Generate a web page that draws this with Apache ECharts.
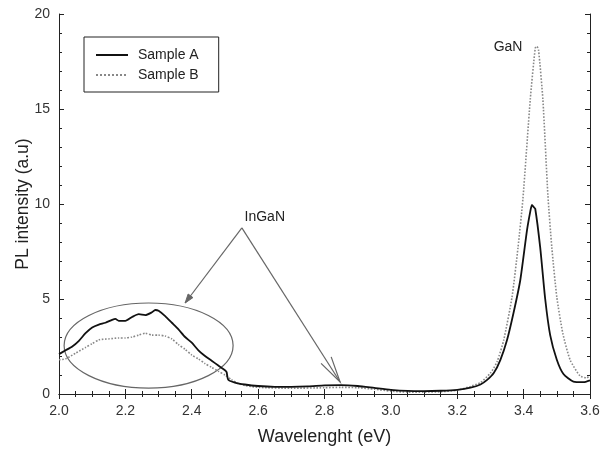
<!DOCTYPE html>
<html>
<head>
<meta charset="utf-8">
<script src="https://cdn.jsdelivr.net/npm/echarts@6/dist/echarts.min.js"></script>
<style>
  html, body { margin: 0; padding: 0; background: #fff; }
  #chart { width: 608px; height: 457px; }
</style>
</head>
<body>
<div id="chart"></div>
<script>
// photon energy (eV) and PL intensity
const energyA = [2.00, 2.02, 2.04, 2.06, 2.08, 2.10, 2.12, 2.14, 2.16, 2.17, 2.18, 2.20, 2.22, 2.24, 2.26, 2.28, 2.29, 2.30,
  2.32, 2.34, 2.36, 2.38, 2.40, 2.42, 2.44, 2.46, 2.48, 2.50, 2.505, 2.51, 2.53, 2.56, 2.60, 2.65, 2.70, 2.75, 2.80,
  2.85, 2.90, 2.95, 3.00, 3.05, 3.10, 3.15, 3.20, 3.24, 3.27, 3.29, 3.31, 3.33, 3.35, 3.37, 3.39, 3.41, 3.42, 3.425,
  3.43, 3.435, 3.45, 3.465, 3.48, 3.50, 3.52, 3.55, 3.58, 3.60];
const sampleA = [2.1, 2.3, 2.5, 2.8, 3.2, 3.5, 3.65, 3.75, 3.9, 3.95, 3.85, 3.85, 4.05, 4.2, 4.15, 4.3, 4.42, 4.38,
  4.1, 3.75, 3.4, 3.0, 2.7, 2.3, 2.0, 1.75, 1.5, 1.25, 1.15, 0.75, 0.6, 0.5, 0.42, 0.38, 0.38, 0.40, 0.45,
  0.47, 0.42, 0.32, 0.22, 0.16, 0.15, 0.17, 0.22, 0.33, 0.5, 0.74, 1.1, 1.8, 2.84, 4.3, 6.0, 8.6, 9.6, 9.95,
  9.85, 9.75, 7.7, 5.0, 3.1, 1.8, 1.05, 0.65, 0.62, 0.72];

const energyB = [2.00, 2.02, 2.05, 2.08, 2.10, 2.12, 2.15, 2.18, 2.20, 2.22, 2.24, 2.26, 2.28, 2.30, 2.32, 2.34, 2.36,
  2.38, 2.40, 2.42, 2.44, 2.46, 2.48, 2.50, 2.52, 2.54, 2.56, 2.60, 2.70, 2.80, 2.85, 2.90, 2.95, 3.00, 3.05, 3.10,
  3.15, 3.20, 3.24, 3.27, 3.30, 3.32, 3.34, 3.365, 3.383, 3.398, 3.42, 3.435, 3.44, 3.445, 3.458, 3.473, 3.485,
  3.50, 3.518, 3.54, 3.57, 3.59, 3.60];
const sampleB = [1.8, 1.85, 2.15, 2.45, 2.65, 2.85, 2.9, 2.95, 2.95, 3.0, 3.1, 3.2, 3.1, 3.1, 3.05, 2.9, 2.6,
  2.35, 2.05, 1.85, 1.6, 1.4, 1.2, 1.0, 0.75, 0.55, 0.45, 0.35, 0.3, 0.33, 0.35, 0.33, 0.25, 0.15, 0.1, 0.1,
  0.12, 0.2, 0.4, 0.6, 1.1, 1.7, 2.84, 5.1, 7.7, 10.3, 15.5, 18.2, 18.3, 18.1, 15.5, 10.5, 7.7,
  5.1, 3.2, 1.8, 0.95, 0.85, 1.0];

const seriesNames = ["Sample A", "Sample B"];
const yTitle = "PL intensity (a.u)";

// annotations, in data units
const ingan = { label: "InGaN", text: [2.62, 9.3], from: [2.551, 8.74], tipLeft: [2.38, 4.79], tipRight: [2.847, 0.63] };
const gan = { label: "GaN", text: [3.353, 18.26] };
const circle = { center: [2.27, 2.55], rx: 0.2546, ry: 2.24 };

const toPairs = (xs, ys) => xs.map((x, i) => [x, ys[i]]);

const chart = echarts.init(document.getElementById("chart"));
const font = "Liberation Sans, Arial, sans-serif";

const axisLine = { show: true, lineStyle: { color: "#222", width: 1 } };
const axisTick = { show: true, inside: true, length: 5, lineStyle: { color: "#222" } };
const minorX = { show: true, splitNumber: 4, length: 3, lineStyle: { color: "#222" } };
const minorY = { show: true, splitNumber: 5, length: 3, lineStyle: { color: "#222" } };

chart.setOption({
  animation: false,
  grid: { left: 59, right: 18, top: 14, bottom: 63, outerBoundsMode: "none", containLabel: false },
  legend: {
    left: 84, top: 37,
    orient: "vertical",
    data: seriesNames,
    itemWidth: 32, itemHeight: 10, itemGap: 6,
    padding: [11, 20, 10, 11],
    borderColor: "#222", borderWidth: 1,
    itemStyle: { opacity: 0 },
    textStyle: { fontFamily: font, fontSize: 14, color: "#222", padding: [0, 0, 0, 5] },
  },
  xAxis: [
    {
      type: "value", min: 2.0, max: 3.6, interval: 0.2,
      name: "Wavelenght (eV)", nameLocation: "middle", nameGap: 34,
      nameTextStyle: { fontFamily: font, fontSize: 18, color: "#222" },
      axisLabel: { fontFamily: font, fontSize: 14, color: "#333", margin: 10, formatter: (v) => v.toFixed(1) },
      axisLine, axisTick, minorTick: minorX, splitLine: { show: false },
    },
    {
      type: "value", min: 2.0, max: 3.6, interval: 0.2, position: "top",
      axisLabel: { show: false },
      axisLine, axisTick, minorTick: minorX, splitLine: { show: false },
    },
  ],
  yAxis: [
    {
      type: "value", min: 0, max: 20, interval: 5,
      axisLabel: { fontFamily: font, fontSize: 14, color: "#333", margin: 9 },
      axisLine, axisTick, minorTick: minorY, splitLine: { show: false },
    },
    {
      type: "value", min: 0, max: 20, interval: 5, position: "right",
      axisLabel: { show: false },
      axisLine, axisTick, minorTick: minorY, splitLine: { show: false },
    },
  ],
  series: [
    {
      name: seriesNames[0], type: "line", data: toPairs(energyA, sampleA),
      showSymbol: false, symbol: "none", smooth: 0.2,
      lineStyle: { color: "#111", width: 1.8 }, itemStyle: { color: "#111" },
      z: 3,
    },
    {
      name: seriesNames[1], type: "line", data: toPairs(energyB, sampleB),
      showSymbol: false, symbol: "none", smooth: 0.2,
      lineStyle: { color: "#888", width: 1.6, type: "dotted" }, itemStyle: { color: "#888" },
      z: 2,
    },
  ],
});

// draw the annotations once the scales exist
const px = (p) => chart.convertToPixel({ gridIndex: 0 }, p);

function arrowHead(from, tip, len, half) {
  const dx = tip[0] - from[0], dy = tip[1] - from[1];
  const d = Math.hypot(dx, dy);
  const ux = dx / d, uy = dy / d;
  const bx = tip[0] - ux * len, by = tip[1] - uy * len;
  return [
    [bx - uy * half, by + ux * half],
    tip,
    [bx + uy * half, by - ux * half],
  ];
}

const c = px(circle.center);
const cr = px([circle.center[0] + circle.rx, circle.center[1] + circle.ry]);
const start = px(ingan.from);
const tipL = px(ingan.tipLeft);
const tipR = px(ingan.tipRight);
const yMid = px([2.0, 10]);
const gray = "#666";

chart.setOption({
  graphic: [
    {
      // y axis title, 36px left of the axis line
      type: "text", silent: true,
      x: yMid[0] - 36, y: yMid[1], rotation: Math.PI / 2,
      style: { text: yTitle, fontFamily: font, fontSize: 17.5, fill: "#222", textAlign: "center", textVerticalAlign: "middle" },
    },
    {
      type: "ellipse", silent: true,
      shape: { cx: c[0], cy: c[1], rx: cr[0] - c[0], ry: c[1] - cr[1] },
      style: { fill: "none", stroke: gray, lineWidth: 1.2 },
    },
    {
      type: "polyline", silent: true,
      shape: { points: [start, tipL] },
      style: { stroke: gray, lineWidth: 1.2, fill: "none" },
    },
    {
      type: "polygon", silent: true,
      shape: { points: arrowHead(start, tipL, 9, 3) },
      style: { fill: gray, stroke: gray, lineWidth: 1 },
    },
    {
      type: "polyline", silent: true,
      shape: { points: [start, tipR] },
      style: { stroke: gray, lineWidth: 1.2, fill: "none" },
    },
    {
      type: "polyline", silent: true,
      shape: { points: arrowHead(start, tipR, 26, 6) },
      style: { stroke: gray, lineWidth: 1.2, fill: "none" },
    },
    {
      type: "text", silent: true,
      position: px(ingan.text),
      style: { text: ingan.label, fontFamily: font, fontSize: 14, fill: "#222", textAlign: "center", textVerticalAlign: "middle" },
    },
    {
      type: "text", silent: true,
      position: px(gan.text),
      style: { text: gan.label, fontFamily: font, fontSize: 14, fill: "#222", textAlign: "center", textVerticalAlign: "middle" },
    },
  ],
});
</script>
</body>
</html>
